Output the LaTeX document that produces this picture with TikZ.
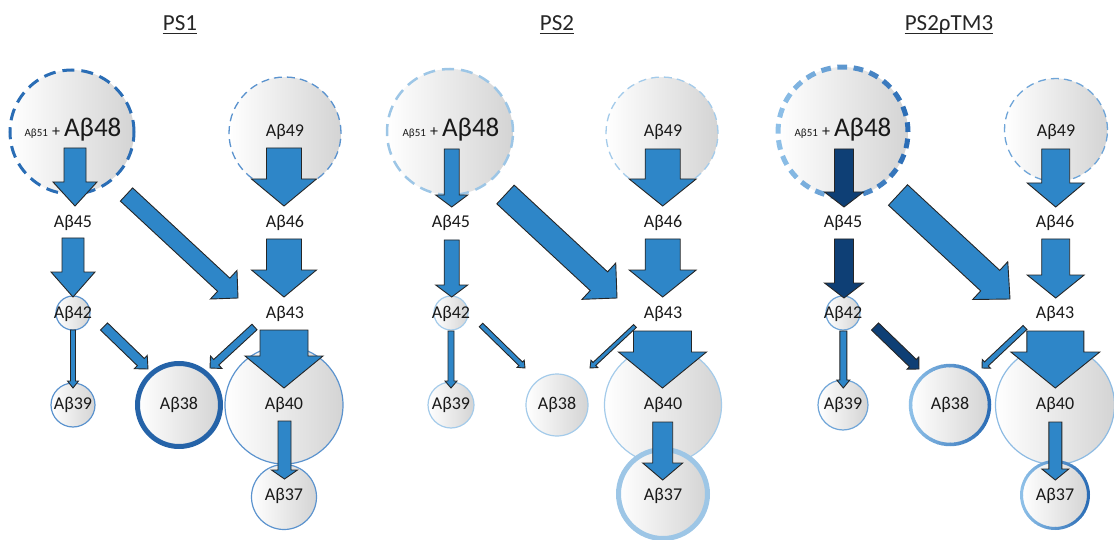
\documentclass[tikz,border=0pt]{standalone}
\usepackage{fontspec}
\setmainfont{Carlito}
\usetikzlibrary{calc}
\definecolor{arrowblue}{HTML}{2E86C8}
\definecolor{navy}{HTML}{0E3F75}
\definecolor{ringdark}{HTML}{2563A8}
\definecolor{ringdash}{HTML}{2A6DB5}
\definecolor{ringmid}{HTML}{5B93CE}
\definecolor{ringlight}{HTML}{A4CBEA}
\definecolor{ringpale}{HTML}{9DC6E6}
\definecolor{gradlight}{HTML}{8EC0E8}
\definecolor{graddark}{HTML}{2A6CB5}
\definecolor{ringmidc}{HTML}{6FA5D8}
\definecolor{ringlightc}{HTML}{8DBBE3}

\tikzset{
  bubble/.style={circle, inner sep=0pt, outer sep=0pt, left color=white, right color=black!17},
  lbl/.style={inner sep=0pt, anchor=base, text=black!90, font=\fontsize{18}{20}\selectfont},
  ttl/.style={inner sep=0pt, anchor=base, text=black!85, font=\fontsize{23}{26}\selectfont},
  barrowstyle/.style={draw=black!85, line width=0.9pt, line join=miter},
  ulin/.style={draw=black!85, line width=1.3pt},
}

% block arrow: name, start, tip, shaft width, head width, head length, colour
\newcommand{\barrow}[7]{%
  \coordinate (#1s) at #2;
  \coordinate (#1t) at #3;
  \coordinate (#1b) at ($(#1t)!#6pt!(#1s)$);
  \filldraw[barrowstyle, fill=#7]
    ($(#1s)!#4pt*0.5!90:(#1t)$) -- ($(#1b)!#4pt*0.5!90:(#1t)$) --
    ($(#1b)!#5pt*0.5!90:(#1t)$) -- (#1t) --
    ($(#1b)!#5pt*0.5!-90:(#1t)$) -- ($(#1b)!#4pt*0.5!-90:(#1t)$) --
    ($(#1s)!#4pt*0.5!-90:(#1t)$) -- cycle;
}
% solid ring with horizontal colour gradient: node, radius, width
\newcommand{\gradring}[3]{%
  \foreach \ga in {0,6,...,354} {
    \pgfmathtruncatemacro{\gp}{50+50*cos(\ga+3)}
    \draw[line width=#3, draw=graddark!\gp!gradlight]
      ($(#1.center)+(\ga:#2pt)$) arc[start angle=\ga, end angle=\ga+6.8, radius=#2pt];
  }
}
% dashed ring with horizontal colour gradient: node, radius, width
\newcommand{\graddash}[3]{%
  \foreach \ga in {0,14.4,...,345.6} {
    \pgfmathtruncatemacro{\gp}{50+50*cos(\ga+4.5)}
    \draw[line width=#3, draw=graddark!\gp!gradlight]
      ($(#1.center)+(\ga:#2pt)$) arc[start angle=\ga, end angle=\ga+8.6, radius=#2pt];
  }
}
\newcommand{\bigtext}{{\fontsize{11}{12}\selectfont Aβ51} {\fontsize{16}{18}\selectfont +} {\fontsize{27}{30}\selectfont Aβ48}}

\begin{document}
\begin{tikzpicture}[x=1pt, y=-1pt]
\useasboundingbox (0,0) rectangle (1114,540);

% ================= circles =================
% PS1
\node[bubble, draw=ringdash, line width=3pt, dash pattern=on 12pt off 7pt, minimum size=124pt] (p1c48) at (72,132) {};
\node[bubble, draw=ringmid, line width=1.3pt, dash pattern=on 8pt off 5pt, minimum size=112pt] (p1c49) at (285,133) {};
\node[bubble, draw=ringmid, line width=1.2pt, minimum size=34pt] (p1c42) at (73,313) {};
\node[bubble, draw=ringmid, line width=1.2pt, minimum size=44pt] (p1c39) at (73,405) {};
\node[bubble, draw=ringdark, line width=5pt, minimum size=83pt] (p1c38) at (179,405) {};
\node[bubble, draw=ringmid, line width=1.2pt, minimum size=118pt] (p1c40) at (284,405) {};
\node[bubble, draw=ringmid, line width=1.2pt, minimum size=65pt] (p1c37) at (284,497) {};
% PS2
\node[bubble, draw=ringpale, line width=2.5pt, dash pattern=on 12pt off 7pt, minimum size=126pt] (p2c48) at (450,132) {};
\node[bubble, draw=ringlight, line width=1.3pt, dash pattern=on 8pt off 5pt, minimum size=112pt] (p2c49) at (662,133) {};
\node[bubble, draw=ringlight, line width=1.2pt, minimum size=34pt] (p2c42) at (451,313) {};
\node[bubble, draw=ringlight, line width=1.2pt, minimum size=46pt] (p2c39) at (451,405) {};
\node[bubble, draw=ringlight, line width=1.2pt, minimum size=62pt] (p2c38) at (557,405) {};
\node[bubble, draw=ringlight, line width=1.2pt, minimum size=117pt] (p2c40) at (663,405) {};
\node[bubble, draw=ringpale, line width=5pt, minimum size=89pt] (p2c37) at (663,494) {};
% PS2rhoTM3
\node[bubble, minimum size=130pt] (p3c48) at (843,132) {};
\node[bubble, draw=ringmidc, line width=1.3pt, dash pattern=on 8pt off 5pt, minimum size=103pt] (p3c49) at (1056,130) {};
\node[bubble, draw=ringmidc, line width=1.2pt, minimum size=34pt] (p3c42) at (843,313) {};
\node[bubble, draw=ringmidc, line width=1.2pt, minimum size=50pt] (p3c39) at (843,405) {};
\node[bubble, minimum size=79pt] (p3c38) at (950,405) {};
\node[bubble, draw=ringlightc, line width=1.2pt, minimum size=119pt] (p3c40) at (1055,405) {};
\node[bubble, minimum size=67pt] (p3c37) at (1055,495) {};
\graddash{p3c48}{65}{5pt}
\gradring{p3c38}{39.5}{3.5pt}
\gradring{p3c37}{33.5}{3pt}

% ================= arrows =================
% PS1
\barrow{p1a}{(75,148)}{(75,206)}{22}{44}{24}{arrowblue}
\barrow{p1b}{(284,148)}{(284,206)}{35}{65}{27}{arrowblue}
\barrow{p1c}{(126.5,194.5)}{(238,298)}{18}{39}{19.5}{arrowblue}
\barrow{p1d}{(73,238)}{(73,297)}{22}{44}{25}{arrowblue}
\barrow{p1e}{(284,239)}{(284,297)}{35}{65}{27}{arrowblue}
\barrow{p1f}{(73,330)}{(73,388)}{5}{11}{7}{arrowblue}
\barrow{p1g}{(104,326.5)}{(148,369)}{10}{18.5}{10}{arrowblue}
\barrow{p1h}{(254.5,327)}{(210,368)}{7.5}{17}{8.5}{arrowblue}
\barrow{p1i}{(284,330)}{(284,388)}{48}{78}{32}{arrowblue}
\barrow{p1j}{(284.5,421)}{(284.5,479)}{13}{26}{9}{arrowblue}
% PS2
\barrow{p2a}{(451.7,149)}{(451.7,207)}{15}{32}{12}{arrowblue}
\barrow{p2b}{(662.7,149)}{(662.7,206)}{35}{67}{27}{arrowblue}
\barrow{p2c}{(505.5,194.5)}{(617,298)}{25.5}{49.5}{24.7}{arrowblue}
\barrow{p2d}{(451.7,240)}{(451.7,297)}{15}{32}{12}{arrowblue}
\barrow{p2e}{(662.7,239)}{(662.7,297)}{35}{67}{27}{arrowblue}
\barrow{p2f}{(451,331)}{(451,388)}{6}{12}{7}{arrowblue}
\barrow{p2g}{(481,325)}{(525,368)}{5}{10}{6}{arrowblue}
\barrow{p2h}{(635,326)}{(590,368)}{4}{10}{6}{arrowblue}
\barrow{p2i}{(662.5,331)}{(662.5,388)}{58}{88}{36}{arrowblue}
\barrow{p2j}{(662.7,422)}{(662.7,480)}{20}{40}{17}{arrowblue}
% PS2rhoTM3
\barrow{p3a}{(844,149)}{(844,207)}{19}{39}{15}{navy}
\barrow{p3b}{(1055.7,149)}{(1055.7,207)}{28}{57}{24}{arrowblue}
\barrow{p3c}{(898,195)}{(1010,299)}{28}{51.6}{27}{arrowblue}
\barrow{p3d}{(844,239)}{(844,298)}{19}{39}{15}{navy}
\barrow{p3e}{(1055.7,239)}{(1055.7,298)}{28}{57}{23}{arrowblue}
\barrow{p3f}{(843.3,331)}{(843.3,388)}{7}{13}{8}{arrowblue}
\barrow{p3g}{(875,326.5)}{(919,369)}{10}{17}{8.5}{navy}
\barrow{p3h}{(1025,327.5)}{(982,368)}{5.5}{12}{6}{arrowblue}
\barrow{p3i}{(1055.3,331)}{(1055.3,388)}{57}{89}{36}{arrowblue}
\barrow{p3j}{(1055.3,422)}{(1055.3,480)}{13}{27}{11}{arrowblue}

% ================= labels =================
% PS1
\node[lbl] (p1t48) at (73,137) {\bigtext};
\node[lbl] (p1t49) at (285,137) {Aβ49};
\node[lbl] (p1t45) at (73,228) {Aβ45};
\node[lbl] (p1t46) at (285,228) {Aβ46};
\node[lbl] (p1t42) at (73,318) {Aβ42};
\node[lbl] (p1t43) at (285,318) {Aβ43};
\node[lbl] (p1t39) at (73,409) {Aβ39};
\node[lbl] (p1t38) at (179,409) {Aβ38};
\node[lbl] (p1t40) at (284,409) {Aβ40};
\node[lbl] (p1t37) at (284,500) {Aβ37};
% PS2
\node[lbl] (p2t48) at (451,137) {\bigtext};
\node[lbl] (p2t49) at (663,137) {Aβ49};
\node[lbl] (p2t45) at (451,228) {Aβ45};
\node[lbl] (p2t46) at (663,228) {Aβ46};
\node[lbl] (p2t42) at (451,318) {Aβ42};
\node[lbl] (p2t43) at (663,318) {Aβ43};
\node[lbl] (p2t39) at (451,409) {Aβ39};
\node[lbl] (p2t38) at (557,409) {Aβ38};
\node[lbl] (p2t40) at (663,409) {Aβ40};
\node[lbl] (p2t37) at (663,500) {Aβ37};
% PS2rhoTM3
\node[lbl] (p3t48) at (843,137) {\bigtext};
\node[lbl] (p3t49) at (1056,137) {Aβ49};
\node[lbl] (p3t45) at (843,228) {Aβ45};
\node[lbl] (p3t46) at (1055,228) {Aβ46};
\node[lbl] (p3t42) at (843,318) {Aβ42};
\node[lbl] (p3t43) at (1055,318) {Aβ43};
\node[lbl] (p3t39) at (843,409) {Aβ39};
\node[lbl] (p3t38) at (950,409) {Aβ38};
\node[lbl] (p3t40) at (1055,409) {Aβ40};
\node[lbl] (p3t37) at (1055,500) {Aβ37};

% ================= titles =================
\node[ttl] (title1) at (180,31) {PS1};
\node[ttl] (title2) at (557,31) {PS2};
\node[ttl] (title3) at (949,31) {PS2ρTM3};
\foreach \tn in {title1,title2,title3}
  \draw[ulin] ([yshift=-2.6pt]\tn.base west) -- ([yshift=-2.6pt]\tn.base east);
\end{tikzpicture}
\end{document}
